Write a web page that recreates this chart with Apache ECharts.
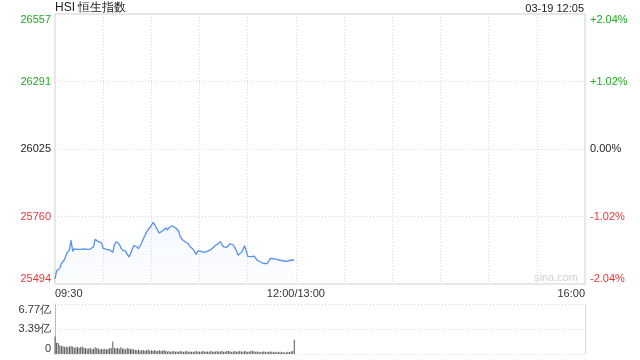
<!DOCTYPE html>
<html><head><meta charset="utf-8">
<script src="https://cdn.jsdelivr.net/npm/echarts@6/dist/echarts.min.js"></script>
<style>html,body{margin:0;padding:0;background:#fff}#c{width:640px;height:360px}</style>
</head><body><div id="c"></div>
<script>
const TITLE = 'HSI 恒生指数';
const STAMP = '03-19 12:05';
const PREV = 26025;
const STEP = 265.75;
const LEFT_LABELS = ['25494', '25760', '26025', '26291', '26557'];
const RIGHT_LABELS = ['-2.04%', '-1.02%', '0.00%', '+1.02%', '+2.04%'];
const LABEL_COLORS = ['#f03434', '#f03434', '#222222', '#22a822', '#22a822'];
const X_LABELS = { 0: '09:30', 150: '12:00/13:00', 330: '16:00' };
const VOL_LABELS = ['0', '3.39亿', '6.77亿'];
const VOL_MAX = 6.77;

// index price per minute from 09:30
const PRICE = [
  25514,25545,25552,25556,25574,25578,25590,25610,25606,25630,
  25665,25622,25632,25628,25630,25624,25630,25634,25632,25633,
  25630,25632,25631,25634,25640,25670,25668,25660,25654,25655,
  25634,25636,25630,25632,25628,25634,25618,25648,25660,25656,
  25651,25636,25627,25625,25623,25610,25600,25612,25628,25645,
  25644,25640,25632,25644,25656,25672,25684,25698,25708,25716,
  25724,25736,25728,25716,25704,25694,25698,25703,25708,25714,
  25706,25716,25722,25723,25720,25715,25710,25702,25680,25670,
  25664,25660,25656,25652,25641,25638,25630,25620,25610,25624,
  25626,25622,25620,25618,25620,25623,25625,25628,25634,25640,
  25645,25650,25654,25660,25648,25640,25634,25638,25645,25652,
  25650,25647,25642,25625,25607,25610,25618,25628,25644,25625,
  25602,25600,25601,25606,25603,25598,25586,25583,25580,25578,
  25574,25570,25574,25582,25594,25596,25593,25591,25590,25590,
  25587,25584,25585,25584,25583,25584,25586,25588,25588,25588
];
// volume per minute, 亿
const VOLUME = [
  2.38,1.55,1.50,1.20,1.10,1.05,0.95,1.00,0.90,1.00,
  1.10,1.00,0.85,0.90,0.95,0.80,0.95,1.00,0.85,0.80,
  0.70,0.75,0.80,0.65,0.70,0.90,0.80,0.75,0.60,0.70,
  0.65,0.70,0.60,0.70,0.75,0.80,1.70,0.80,0.75,0.80,
  0.70,0.90,0.70,0.75,0.60,0.80,0.75,0.65,0.70,0.60,
  0.55,0.50,0.60,0.45,0.50,0.55,0.45,0.50,0.60,0.45,
  0.50,0.45,0.55,0.40,0.45,0.50,0.40,0.45,0.55,0.40,
  0.35,0.40,0.30,0.35,0.40,0.30,0.35,0.30,0.40,0.35,
  0.30,0.35,0.40,0.30,0.35,0.30,0.30,0.35,0.40,0.30,
  0.35,0.30,0.40,0.35,0.30,0.35,0.30,0.40,0.35,0.30,
  0.35,0.40,0.30,0.35,0.40,0.30,0.35,0.40,0.45,0.35,
  0.30,0.35,0.40,0.30,0.35,0.40,0.35,0.30,0.40,0.35,
  0.30,0.35,0.40,0.45,0.35,0.30,0.35,0.30,0.25,0.30,
  0.35,0.30,0.25,0.30,0.35,0.30,0.25,0.30,0.25,0.30,
  0.25,0.30,0.25,0.20,0.25,0.30,0.25,0.35,0.40,1.94
];

const FONT = '"Liberation Sans", Arial, sans-serif';
const priceData = PRICE.map((v, i) => [i, v - PREV]);
const volData = VOLUME.map((v, i) => [i, v]);
const idx = v => Math.round(v / STEP) + 2;
const dotted = { show: true, lineStyle: { color: '#dadada', type: [1, 2], width: 1 } };

const chart = echarts.init(document.getElementById('c'), null, { renderer: 'canvas' });
chart.setOption({
  animation: false,
  textStyle: { fontFamily: FONT },
  graphic: [
    { type: 'text', left: 55, top: 2, style: { text: TITLE, font: '12px ' + FONT, fill: '#222' } },
    { type: 'text', right: 56, top: 3, style: { text: STAMP, font: '11px ' + FONT, fill: '#222' } },
    { type: 'text', left: 534, top: 272, style: { text: 'sina.com', font: '11px ' + FONT, fill: '#d0d0d0' } }
  ],
  grid: [
    { left: 55, right: 55, top: 14, height: 270, show: true, borderColor: '#cfcfcf', borderWidth: 1, backgroundColor: 'transparent' },
    { left: 55, right: 55, top: 304, height: 50 }
  ],
  xAxis: [
    {
      type: 'value', gridIndex: 0, min: 0, max: 330, interval: 30,
      axisLine: { show: false }, axisTick: { show: false },
      splitLine: Object.assign({ showMinLine: false, showMaxLine: false }, dotted),
      axisLabel: {
        show: true, margin: 4, fontSize: 11, color: '#333', fontFamily: FONT,
        alignMinLabel: 'left', alignMaxLabel: 'right',
        formatter: v => X_LABELS[v] !== undefined ? X_LABELS[v] : ''
      }
    },
    {
      type: 'value', gridIndex: 1, min: 0, max: 330, interval: 30,
      axisLine: { show: false }, axisTick: { show: false },
      splitLine: { show: false }, axisLabel: { show: false }
    }
  ],
  yAxis: [
    {
      type: 'value', gridIndex: 0, min: -2 * STEP, max: 2 * STEP, interval: STEP,
      axisLine: { show: false }, axisTick: { show: false },
      splitLine: Object.assign({ showMinLine: false, showMaxLine: false }, dotted),
      axisLabel: {
        margin: 4, fontSize: 11, fontFamily: FONT,
        verticalAlignMinLabel: 'bottom', verticalAlignMaxLabel: 'top',
        color: (v) => LABEL_COLORS[idx(v)],
        formatter: v => LEFT_LABELS[idx(v)]
      }
    },
    {
      type: 'value', gridIndex: 0, position: 'right', min: -2 * STEP, max: 2 * STEP, interval: STEP,
      axisLine: { show: false }, axisTick: { show: false }, splitLine: { show: false },
      axisLabel: {
        margin: 5, fontSize: 11, fontFamily: FONT,
        verticalAlignMinLabel: 'bottom', verticalAlignMaxLabel: 'top',
        color: (v) => LABEL_COLORS[idx(v)],
        formatter: v => RIGHT_LABELS[idx(v)]
      }
    },
    {
      type: 'value', gridIndex: 1, min: 0, max: VOL_MAX, interval: VOL_MAX / 2,
      axisLine: { show: true, lineStyle: { color: '#bdbdbd' } }, axisTick: { show: false },
      splitLine: dotted,
      axisLabel: {
        margin: 4, fontSize: 11, color: '#333', fontFamily: FONT,
        verticalAlignMinLabel: 'bottom', verticalAlignMaxLabel: 'top',
        formatter: v => VOL_LABELS[Math.round(v / (VOL_MAX / 2))]
      }
    },
    {
      type: 'value', gridIndex: 1, position: 'right', min: 0, max: VOL_MAX,
      axisLine: { show: true, lineStyle: { color: '#d6d6d6' } }, axisTick: { show: false },
      splitLine: { show: false }, axisLabel: { show: false }
    }
  ],
  series: [
    {
      type: 'line', xAxisIndex: 0, yAxisIndex: 0, data: priceData, showSymbol: false,
      lineStyle: { color: '#5590f0', width: 1.3 },
      areaStyle: {
        origin: 'start',
        color: new echarts.graphic.LinearGradient(0, 0, 0, 1, [
          { offset: 0, color: 'rgba(85,144,240,0.10)' },
          { offset: 1, color: 'rgba(85,144,240,0.02)' }
        ])
      }
    },
    {
      type: 'bar', xAxisIndex: 1, yAxisIndex: 2, data: volData, barWidth: 1,
      itemStyle: { color: '#555' }
    }
  ]
});
</script>
</body></html>
